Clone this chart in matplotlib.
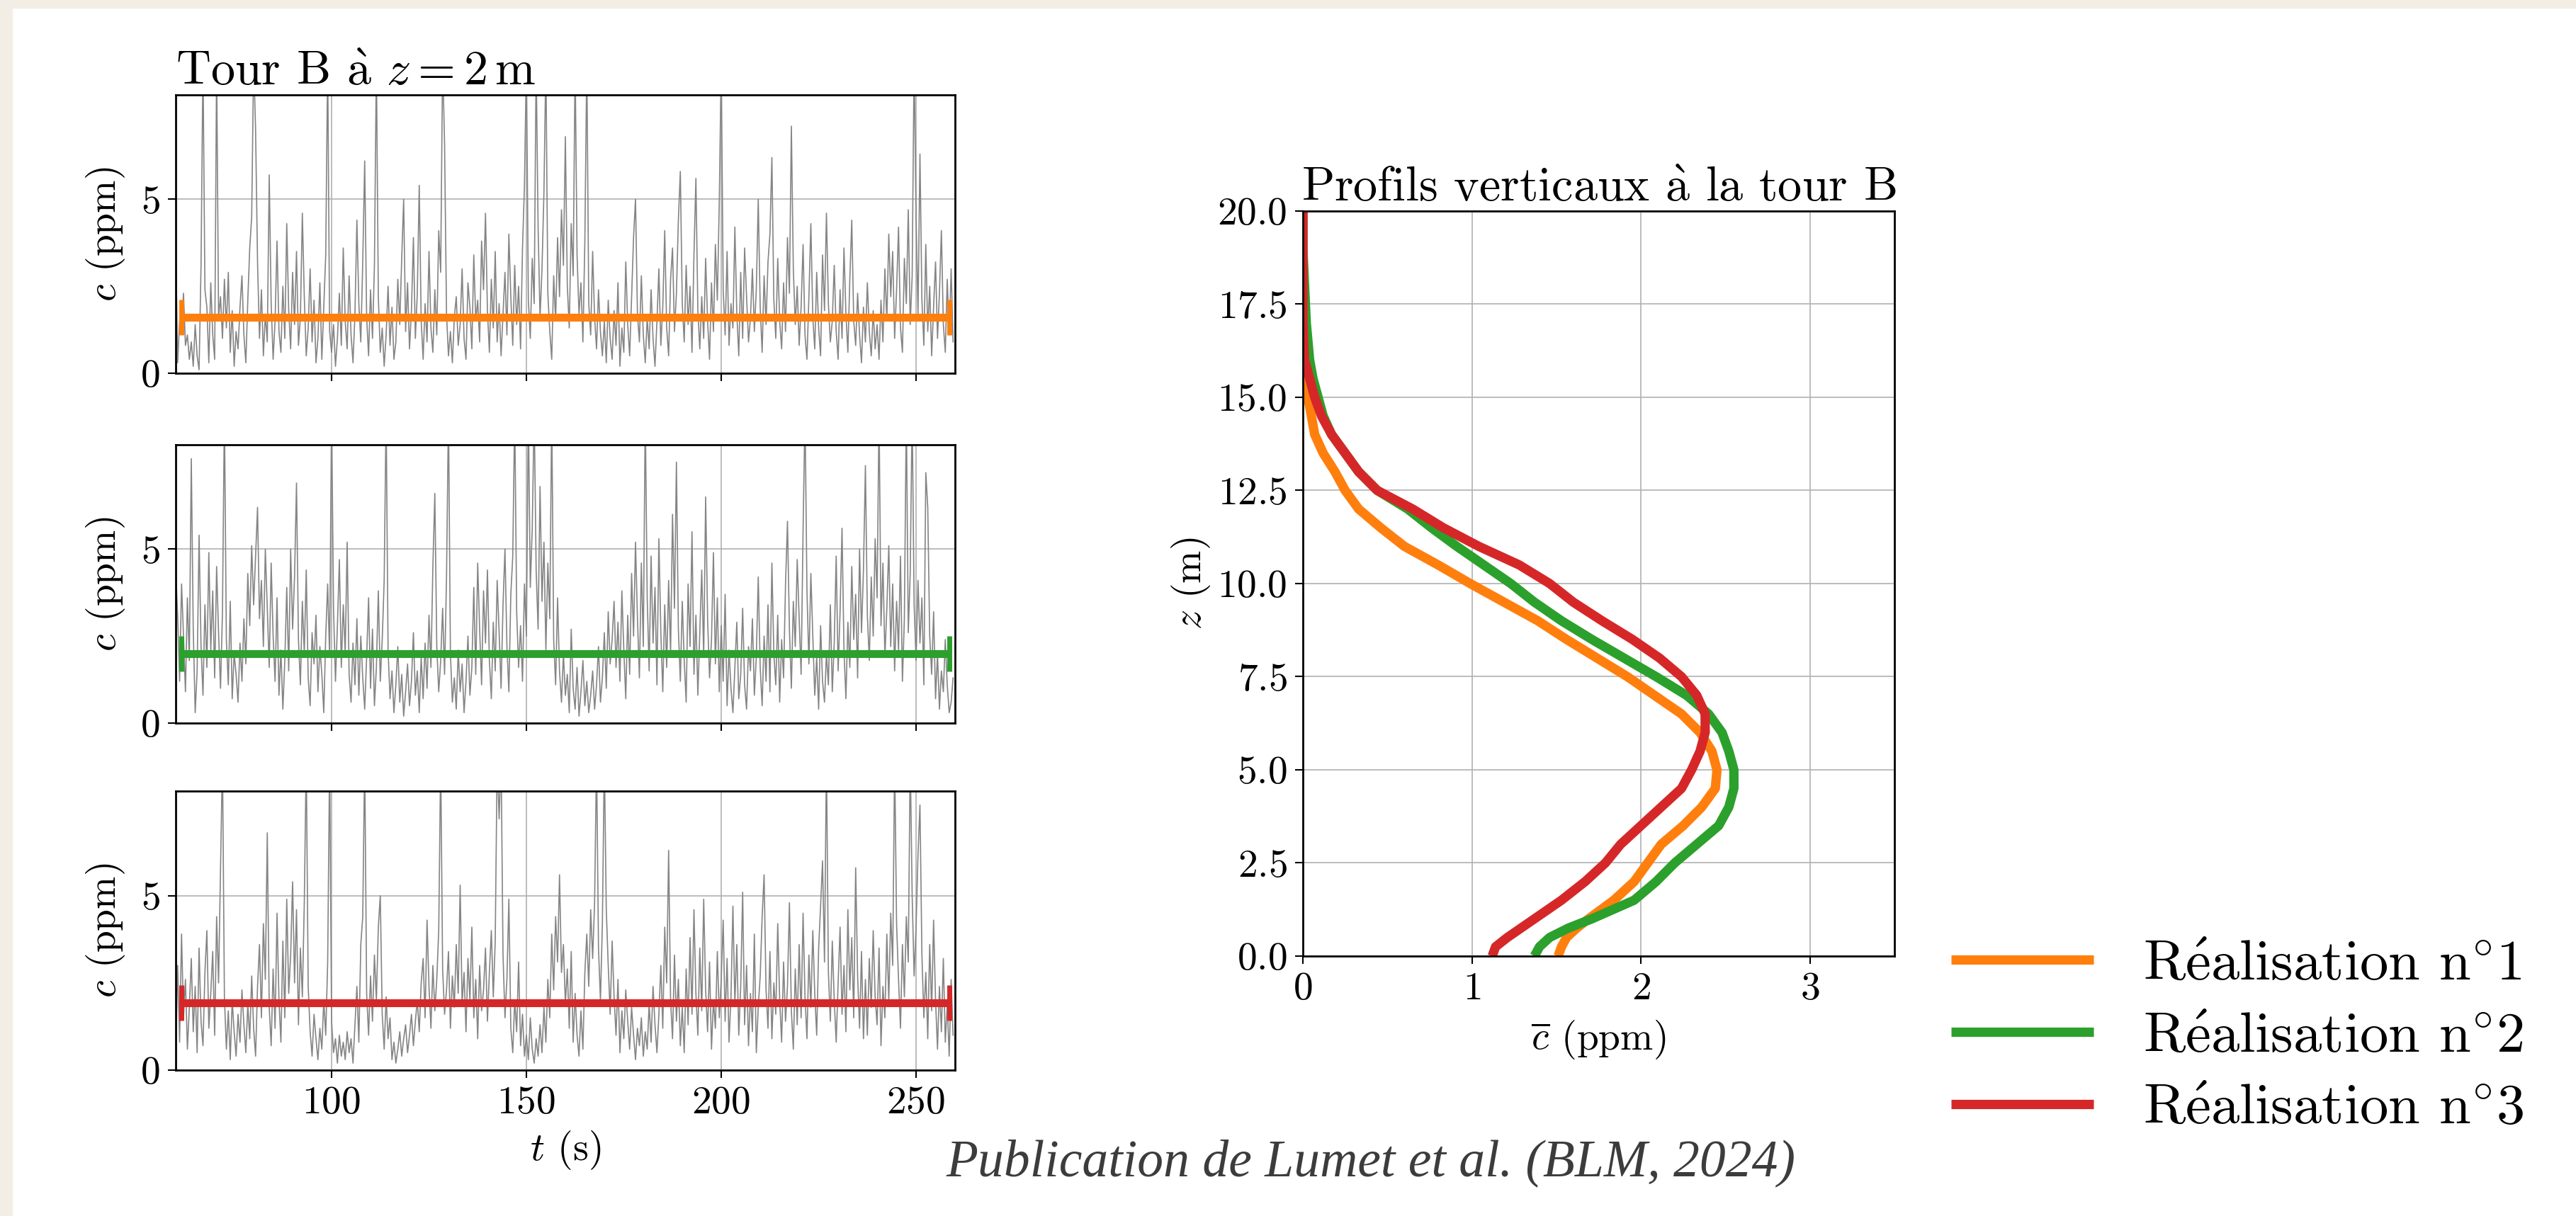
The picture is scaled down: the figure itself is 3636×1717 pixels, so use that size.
import numpy as np
import matplotlib
matplotlib.use("Agg")
import matplotlib.pyplot as plt
from matplotlib.patches import Rectangle

plt.rcParams['font.family'] = 'serif'
plt.rcParams['font.serif'] = ['cmr10']
plt.rcParams['mathtext.fontset'] = 'cm'
plt.rcParams['axes.formatter.use_mathtext'] = True
plt.rcParams['axes.unicode_minus'] = False

# --- concentration time series at tower B, z = 2 m (ppm), one value every 0.5 s from t = 60 s
t_start, t_step = 60.0, 0.5
serie_1 = [
    3.9, 0.3, 1.5, 1.2, 2.3, 0.8, 1.1, 0.4, 0.9, 0.2, 1.4, 0.5, 0.1, 3.1, 9.0, 2.4, 1.9, 0.3, 2.6, 1.1,
    0.4, 9.0, 1.6, 2.2, 1.0, 2.7, 1.3, 2.9, 0.6, 1.8, 0.2, 1.2, 0.7, 1.9, 2.8, 1.1, 0.3, 2.1, 3.6, 4.5,
    9.0, 7.0, 3.2, 1.0, 2.4, 0.5, 1.7, 0.9, 5.7, 2.0, 0.4, 1.5, 3.8, 1.2, 0.6, 2.5, 1.0, 4.3, 1.8, 0.7,
    2.9, 1.4, 3.5, 0.8, 1.6, 4.6, 2.2, 0.5, 1.3, 3.0, 0.9, 2.1, 0.3, 1.0, 2.6, 0.4, 1.9, 3.4, 9.0, 1.2,
    0.6, 1.4, 0.2, 1.0, 2.3, 0.8, 3.6, 1.5, 0.7, 2.8, 1.1, 0.3, 1.7, 4.4, 2.0, 0.9, 3.2, 6.1, 1.6, 0.5,
    2.4, 1.0, 3.1, 9.0, 2.2, 0.6, 1.3, 0.2, 1.1, 2.5, 0.8, 1.9, 0.4, 0.9, 2.7, 1.4, 3.3, 5.0, 1.2, 2.6,
    0.7, 1.8, 3.9, 1.0, 2.3, 5.4, 1.5, 0.4, 2.0, 0.9, 3.5, 1.3, 0.6, 2.4, 1.1, 4.1, 2.9, 9.0, 6.6, 1.7,
    0.5, 1.2, 0.3, 1.6, 2.2, 0.8, 1.4, 3.0, 1.0, 0.4, 2.6, 1.9, 0.7, 3.4, 1.5, 2.1, 0.9, 3.8, 2.4, 4.6,
    1.8, 0.6, 2.7, 1.3, 3.5, 0.9, 2.0, 0.5, 1.7, 2.9, 1.1, 4.0, 2.2, 0.8, 3.1, 1.4, 2.5, 0.7, 3.6, 5.4,
    9.0, 2.1, 1.0, 3.3, 2.0, 9.0, 4.2, 1.6, 3.0, 5.2, 9.0, 2.3, 1.2, 0.4, 2.8, 1.5, 3.9, 2.2, 4.7, 3.1,
    6.8, 2.5, 1.3, 4.3, 2.8, 9.0, 3.4, 1.7, 2.6, 0.9, 3.8, 9.0, 2.0, 1.1, 3.5, 1.6, 0.7, 2.4, 1.2, 0.5,
    1.5, 0.3, 2.1, 1.0, 0.4, 1.8, 0.8, 2.6, 0.2, 1.3, 0.6, 3.2, 1.4, 0.5, 2.2, 3.9, 5.0, 1.7, 0.9, 2.8,
    1.1, 0.3, 1.6, 0.7, 2.4, 1.0, 0.2, 1.5, 3.0, 0.8, 1.9, 4.1, 1.3, 0.5, 2.7, 3.6, 1.2, 2.3, 4.4, 5.8,
    2.0, 0.9, 3.1, 1.4, 2.5, 0.6, 3.4, 5.6, 1.8, 0.7, 2.2, 1.0, 3.3, 1.5, 0.4, 2.6, 1.2, 3.7, 2.1, 4.9,
    9.0, 2.4, 1.1, 3.5, 0.8, 2.0, 1.3, 4.2, 1.7, 0.5, 2.9, 1.0, 3.6, 2.2, 0.9, 1.6, 3.0, 1.2, 2.4, 5.0,
    1.9, 0.6, 2.8, 1.4, 3.2, 4.0, 6.2, 2.1, 1.0, 3.3, 1.5, 0.7, 2.6, 1.2, 3.9, 2.3, 7.1, 3.0, 1.4, 2.5,
    0.8, 1.9, 3.7, 1.1, 0.4, 2.2, 4.3, 1.6, 0.7, 2.9, 1.3, 0.5, 3.4, 1.8, 4.6, 2.0, 0.9, 1.5, 3.1, 1.2,
    0.4, 2.4, 1.0, 3.6, 1.7, 0.6, 2.7, 4.4, 1.5, 0.8, 2.3, 1.1, 0.3, 1.9, 0.9, 2.6, 1.2, 0.5, 1.8, 0.7,
    1.4, 0.4, 2.1, 0.9, 3.0, 1.5, 4.0, 2.2, 3.5, 1.0, 2.4, 4.2, 1.3, 0.6, 3.3, 2.0, 4.7, 1.4, 2.8, 9.0,
    4.5, 1.7, 6.3, 2.1, 0.8, 3.7, 1.2, 2.5, 0.5, 1.9, 3.2, 1.0, 2.3, 4.1, 1.4, 0.6, 2.7, 1.1, 3.0, 0.9,
]
serie_2 = [
    4.4, 3.1, 1.2, 4.0, 2.5, 0.9, 3.6, 1.8, 7.6, 2.7, 0.3, 1.5, 5.4, 2.2, 0.8, 3.4, 1.6, 4.9, 2.1, 3.8,
    1.3, 4.5, 2.6, 1.0, 3.2, 9.0, 2.4, 1.1, 3.5, 0.7, 2.0, 1.4, 0.6, 2.3, 1.2, 3.0, 1.7, 4.3, 2.8, 5.1,
    3.4, 4.8, 6.2, 3.0, 4.1, 2.2, 5.0, 3.3, 1.6, 4.6, 2.5, 1.2, 3.6, 0.8, 2.1, 0.4, 1.8, 3.9, 1.5, 5.0,
    2.7, 4.2, 6.9, 2.4, 1.1, 3.5, 2.0, 4.4, 1.3, 0.5, 2.6, 1.7, 3.1, 0.9, 2.2, 1.4, 0.3, 2.5, 4.0, 1.9,
    9.0, 3.3, 1.2, 2.8, 4.7, 1.6, 3.4, 2.0, 5.2, 1.4, 0.6, 2.3, 1.1, 3.0, 0.8, 2.5, 1.3, 0.4, 1.9, 3.6,
    1.0, 2.7, 0.5, 1.6, 3.8, 1.2, 2.4, 4.1, 9.0, 2.1, 0.7, 1.5, 0.3, 1.1, 2.2, 0.6, 1.4, 0.2, 0.9, 1.7,
    0.5, 1.2, 2.6, 0.8, 1.5, 0.3, 1.9, 0.7, 2.3, 1.0, 3.1, 1.6, 4.5, 6.6, 2.2, 0.9, 1.8, 3.3, 1.4, 4.2,
    9.0, 2.0, 0.6, 1.3, 0.4, 2.1, 0.9, 1.7, 0.3, 1.2, 2.5, 0.8, 1.6, 3.9, 1.4, 4.6, 2.7, 1.1, 3.8, 2.3,
    4.4, 1.8, 0.7, 2.9, 1.5, 4.1, 2.6, 1.0, 3.4, 5.0, 2.2, 0.9, 3.7, 4.8, 9.0, 3.2, 1.6, 2.8, 1.2, 4.0,
    2.5, 9.0, 3.9, 5.6, 9.0, 4.4, 2.7, 6.8, 3.5, 5.2, 2.1, 4.6, 3.0, 9.0, 2.4, 1.1, 3.6, 1.5, 0.6, 2.0,
    0.8, 1.4, 0.3, 2.7, 1.0, 0.4, 1.6, 0.2, 0.9, 1.8, 0.5, 1.2, 0.3, 0.8, 1.5, 0.4, 1.1, 2.2, 0.6, 1.3,
    2.6, 1.0, 3.2, 1.7, 2.4, 3.5, 1.6, 2.9, 1.2, 3.8, 2.1, 0.7, 3.1, 1.4, 4.3, 2.5, 5.2, 3.0, 1.3, 4.6,
    2.2, 9.0, 3.6, 1.5, 4.8, 2.3, 3.9, 1.1, 5.3, 2.6, 0.9, 3.4, 1.6, 4.1, 2.0, 6.0, 3.3, 7.5, 2.7, 1.2,
    3.5, 1.8, 0.6, 4.0, 2.2, 5.5, 1.4, 3.1, 0.8, 2.6, 4.4, 1.9, 6.5, 3.0, 1.3, 2.4, 4.9, 1.7, 3.6, 0.9,
    2.8, 1.2, 3.7, 0.5, 2.1, 1.0, 0.3, 1.6, 2.9, 0.7, 1.4, 3.3, 1.1, 0.4, 2.2, 1.5, 3.0, 0.8, 1.9, 4.2,
    1.6, 0.5, 2.5, 1.2, 3.4, 0.9, 4.6, 2.0, 1.1, 3.1, 0.6, 2.4, 1.3, 4.0, 5.8, 2.7, 1.0, 3.5, 2.2, 4.7,
    3.0, 1.4, 5.5, 9.0, 3.8, 1.7, 4.3, 2.5, 0.8, 1.9, 0.4, 2.8, 1.2, 0.6, 2.0, 1.1, 3.4, 0.9, 2.3, 4.8,
    1.5, 3.2, 5.6, 2.1, 0.7, 2.9, 1.6, 4.5, 2.4, 3.7, 1.3, 5.0, 2.6, 4.4, 7.4, 3.1, 1.8, 4.2, 2.5, 5.3,
    3.6, 9.0, 2.8, 4.6, 1.9, 3.3, 5.1, 2.2, 4.0, 1.5, 3.5, 2.1, 4.8, 1.2, 3.0, 9.0, 2.6, 4.3, 9.0, 3.4,
    1.8, 4.1, 2.3, 3.6, 1.1, 7.2, 6.2, 2.5, 1.4, 3.2, 0.7, 2.0, 0.4, 1.5, 0.9, 2.4, 1.1, 0.3, 0.6, 1.3,
]
serie_3 = [
    0.4, 3.0, 0.8, 3.9, 1.5, 2.6, 0.6, 1.8, 3.2, 1.1, 2.4, 0.5, 3.5, 1.4, 0.7, 2.8, 4.0, 1.2, 2.2, 3.4,
    1.0, 4.4, 2.5, 5.8, 9.0, 2.1, 0.6, 1.7, 0.3, 2.0, 1.1, 0.4, 1.6, 0.8, 2.3, 1.3, 0.5, 1.9, 0.9, 2.7,
    1.2, 0.4, 2.4, 3.6, 1.5, 4.2, 2.6, 6.8, 1.8, 0.7, 2.9, 1.2, 4.5, 2.0, 0.8, 3.7, 1.5, 4.9, 2.2, 3.3,
    5.4, 2.5, 4.6, 1.3, 3.5, 2.1, 4.8, 9.0, 2.4, 1.1, 0.4, 1.6, 0.9, 0.3, 1.2, 0.6, 2.0, 1.0, 3.1, 9.0,
    1.4, 0.5, 0.9, 0.2, 1.0, 0.4, 0.8, 0.3, 1.1, 0.5, 0.9, 0.2, 1.3, 2.4, 0.8, 3.6, 4.4, 9.0, 2.2, 1.0,
    2.7, 1.4, 3.3, 2.0, 4.1, 5.0, 1.6, 0.6, 2.1, 0.9, 1.5, 0.3, 0.8, 0.2, 0.6, 1.1, 0.4, 0.9, 1.3, 0.5,
    1.0, 1.6, 0.7, 1.4, 2.0, 1.1, 2.5, 3.2, 1.5, 4.3, 2.4, 1.2, 3.0, 1.7, 2.6, 4.0, 9.0, 2.9, 1.6, 2.3,
    3.4, 1.2, 2.7, 1.8, 3.6, 2.2, 5.3, 1.9, 2.8, 1.1, 3.2, 2.0, 4.1, 1.5, 2.6, 0.9, 3.0, 1.7, 2.3, 3.5,
    1.4, 2.8, 4.0, 2.1, 3.7, 9.0, 7.2, 9.0, 3.3, 1.5, 2.6, 4.9, 1.2, 0.5, 2.0, 1.1, 3.1, 0.7, 1.6, 0.4,
    1.0, 0.3, 1.5, 0.6, 0.2, 0.9, 0.4, 1.3, 0.5, 1.8, 0.8, 2.6, 1.5, 3.9, 2.3, 4.4, 3.1, 5.6, 2.8, 3.6,
    1.9, 2.9, 1.2, 3.4, 0.8, 2.2, 1.0, 0.4, 1.7, 0.6, 2.8, 3.9, 2.4, 4.6, 3.2, 4.8, 9.0, 3.5, 2.0, 4.2,
    9.0, 4.6, 3.0, 1.6, 3.7, 2.1, 1.0, 2.6, 0.5, 1.7, 0.9, 2.3, 1.4, 0.6, 1.8, 1.0, 0.3, 1.2, 0.7, 1.5,
    0.4, 1.1, 0.6, 1.9, 0.8, 2.4, 1.3, 0.5, 1.6, 3.0, 1.2, 4.1, 2.5, 6.3, 2.0, 0.9, 3.3, 1.4, 2.6, 0.7,
    1.8, 0.5, 2.9, 1.3, 3.8, 1.6, 4.6, 2.2, 1.0, 3.5, 1.7, 4.9, 2.3, 1.1, 3.1, 0.6, 2.0, 1.2, 3.4, 1.5,
    2.6, 4.3, 1.4, 3.2, 0.8, 2.1, 4.7, 1.9, 3.6, 1.0, 2.4, 5.1, 1.3, 3.0, 0.7, 2.2, 1.1, 3.9, 0.5, 1.8,
    2.7, 4.4, 5.6, 2.3, 1.2, 3.4, 0.9, 2.5, 1.6, 4.2, 2.0, 0.8, 3.1, 1.4, 2.4, 4.8, 1.7, 0.6, 2.9, 1.3,
    3.6, 1.5, 4.5, 2.1, 0.9, 3.3, 1.8, 4.0, 2.2, 1.0, 3.5, 4.7, 6.0, 3.1, 9.0, 2.8, 1.4, 3.7, 2.0, 0.8,
    2.5, 4.1, 1.6, 3.0, 1.1, 4.6, 2.3, 3.8, 1.5, 5.8, 2.7, 1.2, 3.4, 0.9, 2.6, 1.0, 3.2, 1.8, 4.0, 2.1,
    1.3, 3.5, 0.7, 2.4, 1.5, 3.9, 2.0, 4.5, 3.0, 9.0, 4.2, 2.6, 1.2, 3.6, 2.1, 4.4, 3.1, 9.0, 5.0, 2.7,
    4.1, 6.2, 7.6, 3.3, 1.5, 2.8, 0.9, 3.6, 1.7, 4.3, 2.0, 0.6, 2.4, 1.1, 3.2, 0.8, 1.9, 0.4, 2.6, 1.0,
]
# temporal means (ppm) and averaging window (s)
moyennes = [1.60, 2.00, 1.93]
fenetre = (61.5, 258.5)

# --- vertical mean profiles at tower B
z = [0.0, 0.25, 0.5, 0.75, 1.0, 1.5, 2.0, 2.5, 3.0, 3.5, 4.0, 4.5, 5.0, 5.5, 6.0, 6.5, 7.0, 7.5, 8.0,
     8.5, 9.0, 9.5, 10.0, 10.5, 11.0, 11.5, 12.0, 12.5, 13.0, 13.5, 14.0, 14.5, 15.0, 15.5, 16.0, 16.5,
     17.0, 18.0, 19.0, 20.0]
profil_1 = [1.51, 1.53, 1.56, 1.62, 1.69, 1.84, 1.96, 2.04, 2.12, 2.25, 2.36, 2.44, 2.45, 2.42, 2.35,
            2.24, 2.08, 1.92, 1.74, 1.56, 1.39, 1.19, 0.99, 0.80, 0.60, 0.46, 0.33, 0.25, 0.19, 0.12,
            0.07, 0.05, 0.03, 0.02, 0.01, 0.005, 0.0, 0.0, 0.0, 0.0]
profil_2 = [1.37, 1.40, 1.46, 1.57, 1.71, 1.96, 2.09, 2.20, 2.33, 2.46, 2.52, 2.55, 2.55, 2.52, 2.48,
            2.40, 2.27, 2.09, 1.90, 1.71, 1.53, 1.37, 1.23, 1.07, 0.91, 0.76, 0.62, 0.44, 0.33, 0.25,
            0.17, 0.12, 0.09, 0.06, 0.04, 0.03, 0.02, 0.01, 0.0, 0.0]
profil_3 = [1.12, 1.14, 1.21, 1.29, 1.37, 1.53, 1.67, 1.79, 1.88, 2.00, 2.12, 2.24, 2.30, 2.35, 2.38,
            2.38, 2.33, 2.24, 2.11, 1.95, 1.77, 1.60, 1.46, 1.28, 1.04, 0.83, 0.65, 0.44, 0.33, 0.25,
            0.17, 0.11, 0.07, 0.04, 0.01, 0.005, 0.0, 0.0, 0.0, 0.0]

labels = [r'R$\mathrm{\acute{e}}$alisation n$^{\circ}$1',
          r'R$\mathrm{\acute{e}}$alisation n$^{\circ}$2',
          r'R$\mathrm{\acute{e}}$alisation n$^{\circ}$3']
couleurs = ['#ff7f0e', '#2ca02c', '#d62728']

series = [serie_1, serie_2, serie_3]
profils = [profil_1, profil_2, profil_3]

fig = plt.figure(figsize=(36.37, 17.17), dpi=100)
fig.patch.set_facecolor('white')
# paper border (top and left)
fig.patches.append(Rectangle((0, 1 - 11 / 1717), 1, 11 / 1717, transform=fig.transFigure,
                             color='#f2eee6', zorder=0))
fig.patches.append(Rectangle((0, 0), 17 / 3637, 1, transform=fig.transFigure,
                             color='#f2eee6', zorder=0))

fs_tick = 40
fs_lab = 40
fs_title = 49

gauche = [(0.06819, 0.69307, 0.30245, 0.22889),
          (0.06819, 0.40536, 0.30245, 0.22889),
          (0.06819, 0.11998, 0.30245, 0.22947)]

for i in range(3):
    ax = fig.add_axes(gauche[i])
    t = t_start + t_step * np.arange(len(series[i]))
    ax.plot(t, series[i], color='#858585', lw=1.2, zorder=2)
    m = moyennes[i]
    ax.errorbar((fenetre[0] + fenetre[1]) / 2, m,
                xerr=[[(fenetre[1] - fenetre[0]) / 2]], color=couleurs[i],
                elinewidth=8, capsize=18, capthick=5, zorder=3)
    ax.set_xlim(60, 260)
    ax.set_ylim(0, 8)
    ax.set_yticks([0, 5])
    ax.set_xticks([100, 150, 200, 250])
    ax.grid(True, color='#b0b0b0', lw=1.2)
    ax.set_axisbelow(True)
    ax.tick_params(labelsize=fs_tick, length=8, width=1.5, pad=8)
    for s in ax.spines.values():
        s.set_linewidth(2)
    ax.set_ylabel(r'$c$ (ppm)', fontsize=fs_lab, labelpad=14)
    if i < 2:
        ax.tick_params(labelbottom=False)
    else:
        ax.set_xlabel(r'$t$ (s)', fontsize=fs_lab, labelpad=8)
    if i == 0:
        ax.set_title(r'Tour B $\mathrm{\grave{a}}$ $z = 2\,\mathrm{m}$', loc='left',
                     fontsize=fs_title, pad=10)

axp = fig.add_axes((0.50564, 0.21375, 0.22958, 0.61270))
lignes = []
for i in range(3):
    ln, = axp.plot(profils[i], z, color=couleurs[i], lw=9.5, label=labels[i],
                   solid_capstyle='butt')
    lignes.append(ln)
axp.set_xlim(0, 3.5)
axp.set_ylim(0, 20)
axp.set_xticks([0, 1, 2, 3])
axp.set_yticks(np.arange(0, 20.1, 2.5))
axp.grid(True, color='#b0b0b0', lw=1.2)
axp.set_axisbelow(True)
axp.tick_params(labelsize=fs_tick, length=8, width=1.5, pad=8)
for s in axp.spines.values():
    s.set_linewidth(2)
axp.set_xlabel(r'$\overline{c}$ (ppm)', fontsize=fs_lab, labelpad=12)
axp.set_ylabel(r'$z$ (m)', fontsize=fs_lab, labelpad=5)
axp.set_title(r'Profils verticaux $\mathrm{\grave{a}}$ la tour B', fontsize=fs_title, pad=10)

fig.legend(handles=lignes, loc='center left', bbox_to_anchor=(0.7572, 0.1468),
           frameon=False, fontsize=58, handlelength=2.5, handletextpad=0.86,
           labelspacing=0.37, borderpad=0, borderaxespad=0)

fig.text(0.532, 0.0437, 'Publication de Lumet et al. (BLM, 2024)', ha='center', va='center',
         fontsize=53, style='italic', family='Liberation Serif', color='#3c3c3c')

fig.savefig('out.png', dpi=100, facecolor=fig.get_facecolor())
